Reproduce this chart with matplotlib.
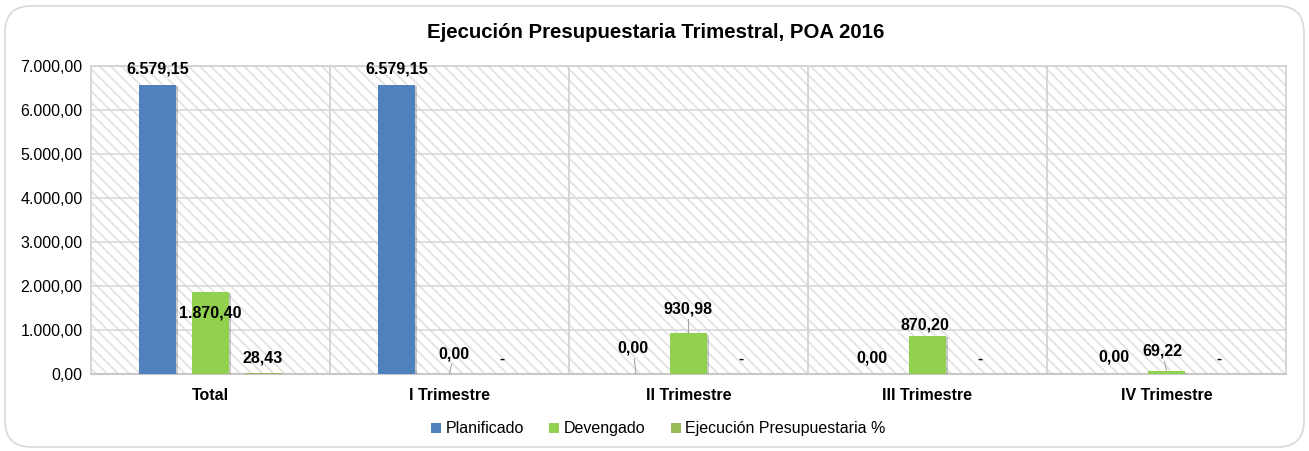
import numpy as np
import matplotlib
matplotlib.use("Agg")
import matplotlib.pyplot as plt
from matplotlib.patches import Rectangle, FancyBboxPatch, Patch
import matplotlib.patheffects as pe

plt.rcParams['font.family'] = ['Liberation Sans', 'DejaVu Sans']
plt.rcParams['hatch.linewidth'] = 1.3

# ---- data ----
title = "Ejecución Presupuestaria Trimestral, POA 2016"
categories = ["Total", "I Trimestre", "II Trimestre", "III Trimestre", "IV Trimestre"]
series_names = ["Planificado", "Devengado", "Ejecución Presupuestaria %"]
planificado = [6579.15, 6579.15, 0.00, 0.00, 0.00]
devengado = [1870.40, 0.00, 930.98, 870.20, 69.22]
ejecucion = [28.43, np.nan, np.nan, np.nan, np.nan]
yticks = [0, 1000, 2000, 3000, 4000, 5000, 6000, 7000]

# ---- style ----
colors = ["#4F81BD", "#92D050", "#9BBB59"]
# label offsets (points) relative to bar top, and whether a leader line is drawn
label_offsets = [
    [(0, 6), (0, 6), (-2, 13), (-2, 6), (0, 7)],
    [(0, -10), (3, 9), (0, 12), (-2, 2), (-3, 9)],
    [(0, 5), (0, 6), (0, 6), (0, 6), (0, 6)],
]
leaders = [
    [False, False, True, False, False],
    [False, True, True, False, True],
    [False, False, False, False, False],
]


def fmt(v):
    if v is None or (isinstance(v, float) and np.isnan(v)):
        return "-"
    s = f"{v:,.2f}"
    return s.replace(",", "X").replace(".", ",").replace("X", ".")


W, H = 1309, 451
fig = plt.figure(figsize=(W / 100, H / 100), dpi=100)
fig.patch.set_facecolor("white")

# outer rounded border
border = FancyBboxPatch((5 / W, 4 / H), 1299 / W, 441 / H,
                        boxstyle="round,pad=0,rounding_size=0.02",
                        transform=fig.transFigure, facecolor="none",
                        edgecolor="#D9D9D9", linewidth=1.2, zorder=-1,
                        mutation_aspect=W / H)
fig.patches.append(border)

ax = fig.add_axes([91 / W, 1 - 374 / H, (1286 - 91) / W, (374 - 66) / H])
ax.set_facecolor("none")

# hatched background
bg = Rectangle((0, 0), 1, 1, transform=ax.transAxes, facecolor="white",
               edgecolor="#E3E3E3", linewidth=0, hatch="\\\\\\", zorder=0)
ax.add_patch(bg)

x = np.arange(len(categories))
width = 0.155
step = 0.22
all_series = [planificado, devengado, ejecucion]

shadow = [pe.withSimplePatchShadow(offset=(1.2, -1.2), shadow_rgbFace="black", alpha=0.2)]

for i, (vals, col, name) in enumerate(zip(all_series, colors, series_names)):
    pos = x + (i - 1) * step
    heights = np.nan_to_num(np.array(vals, dtype=float))
    bars = ax.bar(pos, heights, width=width, color=col, zorder=3)
    for b in bars:
        if b.get_height() > 0:
            b.set_path_effects(shadow)
    for j, (p, v) in enumerate(zip(pos, vals)):
        h = 0 if (isinstance(v, float) and np.isnan(v)) else v
        dx, dy = label_offsets[i][j]
        txt = fmt(v)
        fs = 11.5 if txt != "-" else 11
        if leaders[i][j]:
            ax.annotate(txt, xy=(p, h), xytext=(dx, dy), textcoords="offset points",
                        ha="center", va="bottom", fontsize=fs, fontweight="bold",
                        color="#000000", zorder=5,
                        arrowprops=dict(arrowstyle="-", color="#A6A6A6", lw=0.8,
                                        shrinkA=0, shrinkB=0))
        else:
            ax.annotate(txt, xy=(p, h), xytext=(dx, dy), textcoords="offset points",
                        ha="center", va="bottom" if dy >= 0 else "top",
                        fontsize=fs, fontweight="bold", color="#000000", zorder=5)

ax.set_xlim(-0.5, len(categories) - 0.5)
ax.set_ylim(0, 7000)
ax.set_yticks(yticks)
ax.set_yticklabels([fmt(float(v)) for v in yticks], fontsize=11.5, color="#000000")
ax.set_xticks(x)
ax.set_xticklabels(categories, fontsize=11.5, fontweight="bold")
ax.tick_params(axis="both", length=0)
ax.tick_params(axis="y", pad=6)
ax.tick_params(axis="x", pad=10)

ax.yaxis.grid(True, color="#D9D9D9", linewidth=1.2, zorder=1)
ax.set_axisbelow(True)
for xv in x[:-1] + 0.5:
    ax.axvline(xv, color="#D0D0D0", linewidth=1.2, zorder=1)

for s in ["top", "right", "left"]:
    ax.spines[s].set_color("#D0D0D0")
    ax.spines[s].set_linewidth(1.2)
ax.spines["bottom"].set_color("#C8C8C8")
ax.spines["bottom"].set_linewidth(1.5)

fig.text(656 / W, 1 - 33 / H, title, ha="center", va="center",
         fontsize=14.7, fontweight="bold", color="#000000")

handles = [Patch(facecolor=c, edgecolor="none", label=n) for c, n in zip(colors, series_names)]
ax.legend(handles=handles, loc="center", bbox_to_anchor=(0.503, 0.049),
          bbox_transform=fig.transFigure,
          ncol=3, frameon=False, fontsize=11.5, handlelength=0.6, handleheight=0.6,
          handletextpad=0.3, columnspacing=1.6)

fig.savefig("out.png", dpi=100)
